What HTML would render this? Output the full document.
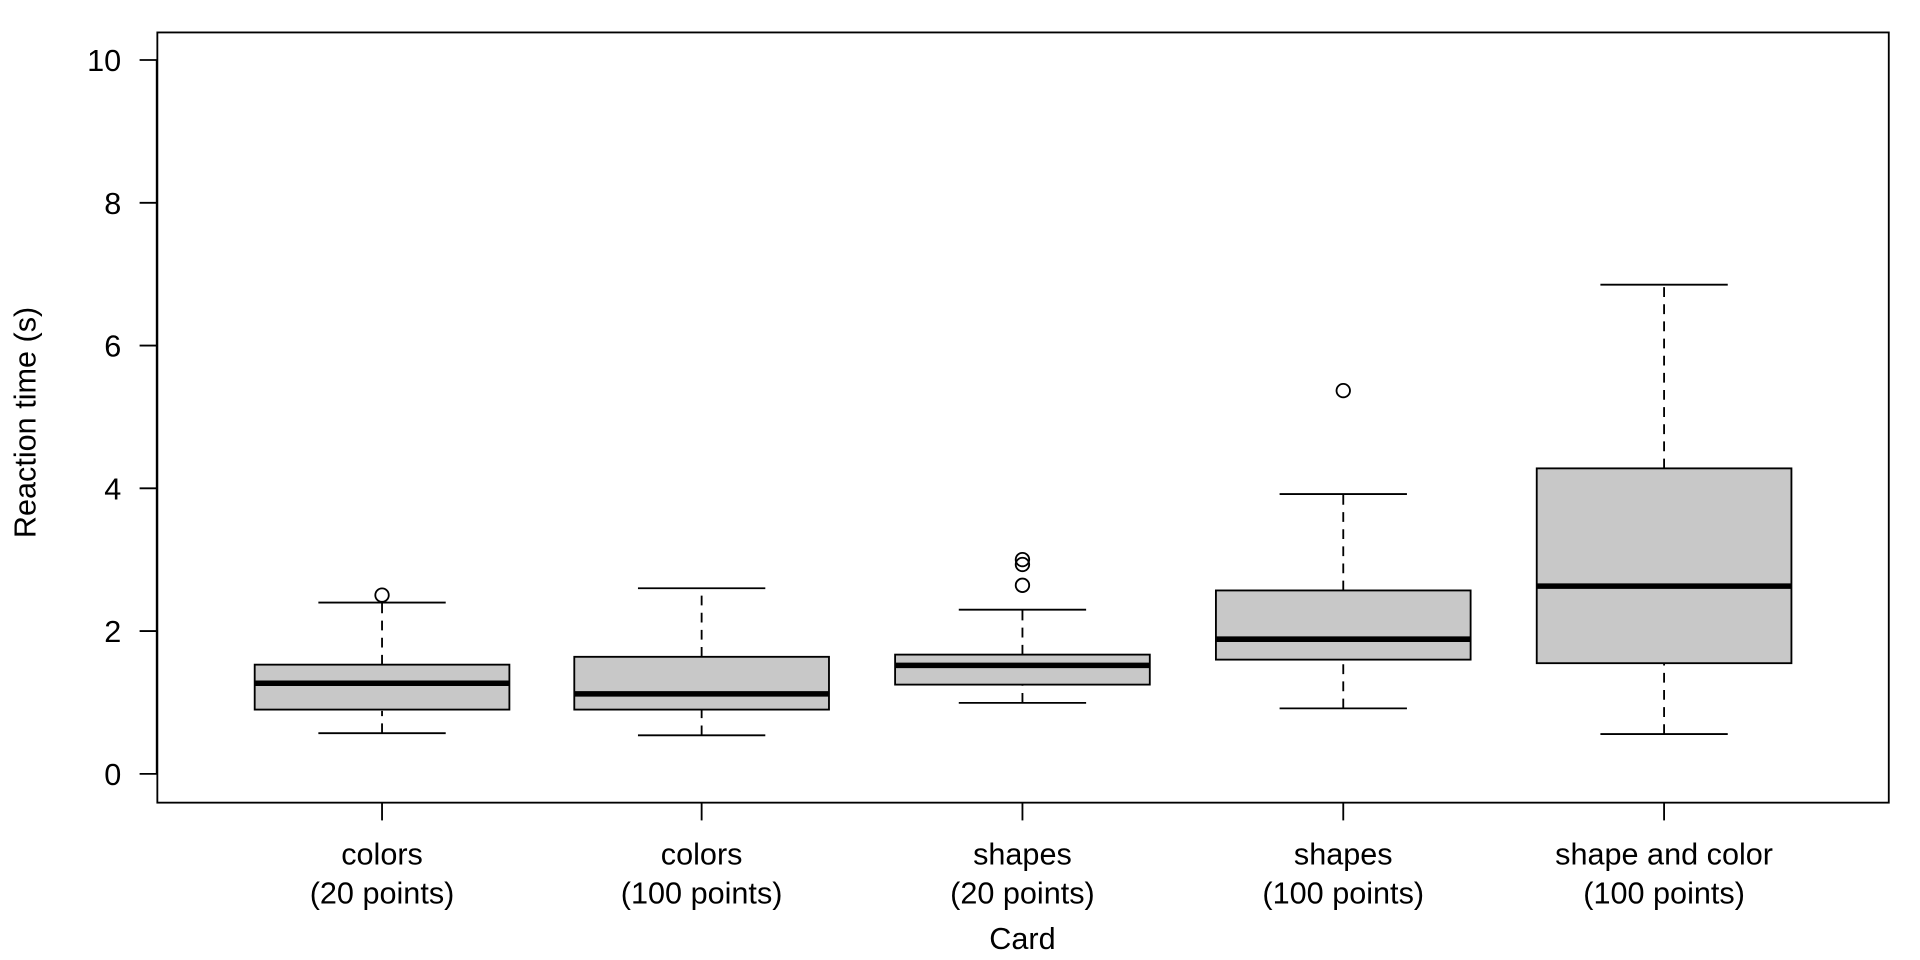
<!DOCTYPE html>
<html><head><style>html,body{margin:0;padding:0;background:#fff}svg{display:block}</style></head>
<body>
<svg width="1920" height="960" viewBox="0 0 1568 784" xmlns="http://www.w3.org/2000/svg" font-family="Liberation Sans, sans-serif" font-size="25">
<rect x="128.5" y="26.5" width="1414" height="629" fill="none" stroke="#000" stroke-width="1.5"/>
<g stroke="#000" stroke-width="1.5">
<line x1="128" y1="49" x2="128" y2="632"/>
<line x1="114" y1="632" x2="128" y2="632"/><line x1="114" y1="515.4" x2="128" y2="515.4"/>
<line x1="114" y1="398.8" x2="128" y2="398.8"/><line x1="114" y1="282.2" x2="128" y2="282.2"/>
<line x1="114" y1="165.6" x2="128" y2="165.6"/><line x1="114" y1="49" x2="128" y2="49"/>
<line x1="312" y1="655" x2="312" y2="670"/><line x1="573" y1="655" x2="573" y2="670"/>
<line x1="835" y1="655" x2="835" y2="670"/><line x1="1097" y1="655" x2="1097" y2="670"/>
<line x1="1359" y1="655" x2="1359" y2="670"/>
</g>
<g text-anchor="end">
<text x="99" y="641">0</text><text x="99" y="524.4">2</text><text x="99" y="407.8">4</text>
<text x="99" y="291.2">6</text><text x="99" y="174.6">8</text><text x="99" y="58">10</text>
</g>
<g text-anchor="middle">
<text x="312" y="706">colors</text><text x="312" y="738">(20 points)</text>
<text x="573" y="706">colors</text><text x="573" y="738">(100 points)</text>
<text x="835" y="706">shapes</text><text x="835" y="738">(20 points)</text>
<text x="1097" y="706">shapes</text><text x="1097" y="738">(100 points)</text>
<text x="1359" y="706">shape and color</text><text x="1359" y="738">(100 points)</text>
<text x="835" y="775">Card</text>
<text transform="translate(29,345) rotate(-90)">Reaction time (s)</text>
</g>
<g stroke="#000" stroke-width="1.5">
<line x1="312" y1="598.8" x2="312" y2="580.5" stroke-dasharray="8,6"/>
<line x1="312" y1="542.8" x2="312" y2="492.1" stroke-dasharray="8,6"/>
<line x1="260" y1="598.8" x2="364" y2="598.8"/><line x1="260" y1="492.1" x2="364" y2="492.1"/>
<rect x="208" y="542.8" width="208" height="36.7" fill="#c8c8c8"/>
<line x1="208" y1="558" x2="416" y2="558" stroke-width="4.5"/>
<circle cx="312" cy="486" r="5.5" fill="none"/>
<line x1="573" y1="600.5" x2="573" y2="579.5" stroke-dasharray="8,6"/>
<line x1="573" y1="536.4" x2="573" y2="480.4" stroke-dasharray="8,6"/>
<line x1="521" y1="600.5" x2="625" y2="600.5"/><line x1="521" y1="480.4" x2="625" y2="480.4"/>
<rect x="469" y="536.4" width="208" height="43.1" fill="#c8c8c8"/>
<line x1="469" y1="566.7" x2="677" y2="566.7" stroke-width="4.5"/>
<line x1="835" y1="574" x2="835" y2="559" stroke-dasharray="8,6"/>
<line x1="835" y1="534.6" x2="835" y2="497.9" stroke-dasharray="8,6"/>
<line x1="783" y1="574" x2="887" y2="574"/><line x1="783" y1="497.9" x2="887" y2="497.9"/>
<rect x="731" y="534.6" width="208" height="24.5" fill="#c8c8c8"/>
<line x1="731" y1="543.4" x2="939" y2="543.4" stroke-width="4.5"/>
<circle cx="835" cy="478" r="5.5" fill="none"/><circle cx="835" cy="461" r="5.5" fill="none"/><circle cx="835" cy="457" r="5.5" fill="none"/>
<line x1="1097" y1="578.5" x2="1097" y2="538.7" stroke-dasharray="8,6"/>
<line x1="1097" y1="482.2" x2="1097" y2="403.5" stroke-dasharray="8,6"/>
<line x1="1045" y1="578.5" x2="1149" y2="578.5"/><line x1="1045" y1="403.5" x2="1149" y2="403.5"/>
<rect x="993" y="482.2" width="208" height="56.5" fill="#c8c8c8"/>
<line x1="993" y1="522" x2="1201" y2="522" stroke-width="4.5"/>
<circle cx="1097" cy="319" r="5.5" fill="none"/>
<line x1="1359" y1="599.5" x2="1359" y2="541.6" stroke-dasharray="8,6"/>
<line x1="1359" y1="382.5" x2="1359" y2="232.5" stroke-dasharray="8,6"/>
<line x1="1307" y1="599.5" x2="1411" y2="599.5"/><line x1="1307" y1="232.5" x2="1411" y2="232.5"/>
<rect x="1255" y="382.5" width="208" height="159.1" fill="#c8c8c8"/>
<line x1="1255" y1="478.7" x2="1463" y2="478.7" stroke-width="4.5"/>
</g>
</svg>
</body></html>
